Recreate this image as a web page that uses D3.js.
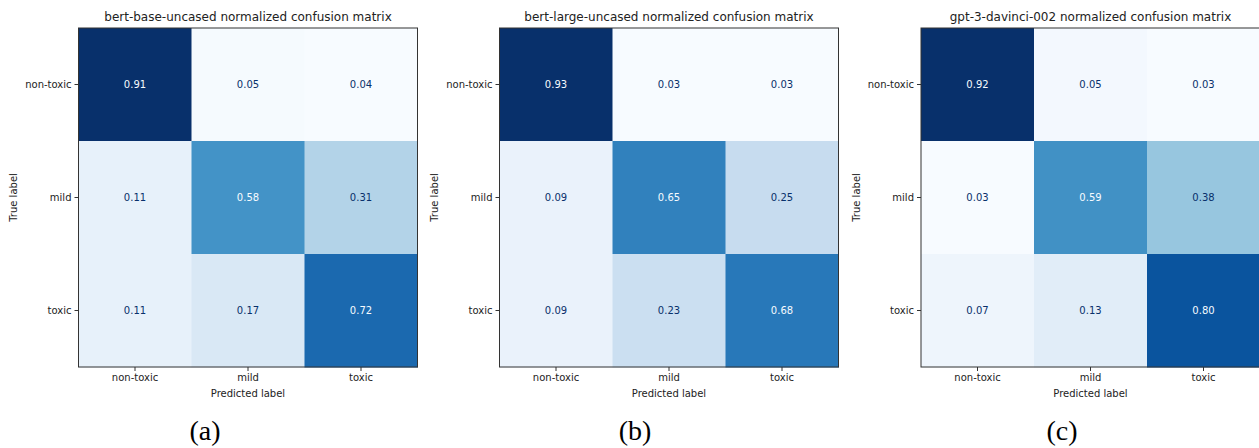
<!DOCTYPE html>
<html>
<head>
<meta charset="utf-8">
<script src="https://cdn.jsdelivr.net/npm/d3@7"></script>
<style>
  body { margin: 0; background: #fff; }
  text { font-family: "DejaVu Sans", sans-serif; }
</style>
</head>
<body>
<div id="chart-area"></div>
<script>
// labels shared by all three matrices
var classes = ['non-toxic', 'mild', 'toxic'];

// one matrix per model, rows = true label, cols = predicted label
var bertBase  = [[0.91, 0.05, 0.04], [0.11, 0.58, 0.31], [0.11, 0.17, 0.72]];
var bertLarge = [[0.93, 0.03, 0.03], [0.09, 0.65, 0.25], [0.09, 0.23, 0.68]];
var gpt3      = [[0.92, 0.05, 0.03], [0.03, 0.59, 0.38], [0.07, 0.13, 0.80]];

var titles = [
	'bert-base-uncased normalized confusion matrix',
	'bert-large-uncased normalized confusion matrix',
	'gpt-3-davinci-002 normalized confusion matrix'
];
var captions = ['(a)', '(b)', '(c)'];
var matrices = [bertBase, bertLarge, gpt3];

// layout (note: "top" is a reserved window prop, so marginTop)
var W = 1259, H = 448;
var size = 339, marginTop = 28;
var panelLeft = [78.5, 499.5, 921];
var captionX = [205, 635, 1062];

// matplotlib "Blues" (linear through the 9 brewer stops)
var blues = d3.piecewise(d3.interpolateRgb, ['#f7fbff', '#deebf7', '#c6dbef', '#9ecae1',
	'#6baed6', '#4292c6', '#2171b5', '#08519c', '#08306b']);

var svg = d3.select('#chart-area')
	.append('svg')
		.attr('width', W)
		.attr('height', H);

matrices.forEach(function(m, p) {
	var flat = [];
	m.forEach(function(row, i) {
		row.forEach(function(v, j) { flat.push({ row: i, col: j, value: v }); });
	});
	var lo = d3.min(flat, d => d.value), hi = d3.max(flat, d => d.value);
	var color = d3.scaleSequential(blues).domain([lo, hi]);
	var thresh = (lo + hi) / 2;

	var x = d3.scaleBand().domain(classes).range([0, size]);
	var y = d3.scaleBand().domain(classes).range([0, size]);

	var g = svg.append('g')
		.attr('transform', 'translate(' + panelLeft[p] + ', ' + marginTop + ')');

	g.selectAll('rect.cell')
		.data(flat)
		.enter().append('rect')
			.attr('class', 'cell')
			.attr('x', d => x(classes[d.col]))
			.attr('y', d => y(classes[d.row]))
			.attr('width', x.bandwidth() + 0.5)
			.attr('height', y.bandwidth() + 0.5)
			.attr('fill', d => color(d.value));

	g.selectAll('text.val')
		.data(flat)
		.enter().append('text')
			.attr('class', 'val')
			.attr('x', d => x(classes[d.col]) + x.bandwidth() / 2)
			.attr('y', d => y(classes[d.row]) + y.bandwidth() / 2)
			.attr('dy', '0.35em')
			.attr('text-anchor', 'middle')
			.attr('font-size', '10px')
			.attr('fill', d => d.value < thresh ? '#08306b' : '#f7fbff')
			.text(d => d.value.toFixed(2));

	// frame
	g.append('rect')
		.attr('x', 0).attr('y', 0)
		.attr('width', size).attr('height', size)
		.attr('fill', 'none')
		.attr('stroke', '#333')
		.attr('stroke-width', 1);

	var xAxis = g.append('g')
		.attr('transform', 'translate(0, ' + size + ')')
		.call(d3.axisBottom(x).tickSize(4).tickSizeOuter(0).tickPadding(3));
	var yAxis = g.append('g')
		.call(d3.axisLeft(y).tickSize(4).tickSizeOuter(0).tickPadding(3));
	[xAxis, yAxis].forEach(function(a) {
		a.select('.domain').remove();
		a.selectAll('text')
			.attr('font-family', '"DejaVu Sans", sans-serif')
			.attr('font-size', '10px')
			.attr('fill', '#222');
		a.selectAll('line').attr('stroke', '#333');
	});

	g.append('text')
		.attr('x', size / 2)
		.attr('y', -7)
		.attr('text-anchor', 'middle')
		.attr('font-size', '12px')
		.attr('fill', '#222')
		.text(titles[p]);

	g.append('text')
		.attr('x', size / 2)
		.attr('y', size + 30)
		.attr('text-anchor', 'middle')
		.attr('font-size', '10px')
		.attr('fill', '#222')
		.text('Predicted label');

	g.append('text')
		.attr('transform', 'rotate(-90)')
		.attr('x', -size / 2)
		.attr('y', -65)
		.attr('dy', '0.35em')
		.attr('text-anchor', 'middle')
		.attr('font-size', '10px')
		.attr('fill', '#222')
		.text('True label');

	svg.append('text')
		.attr('x', captionX[p])
		.attr('y', 430)
		.attr('dy', '0.35em')
		.attr('text-anchor', 'middle')
		.style('font-family', '"Liberation Serif", "Times New Roman", serif')
		.attr('font-size', '28px')
		.attr('fill', '#000')
		.text(captions[p]);
});
</script>
</body>
</html>
